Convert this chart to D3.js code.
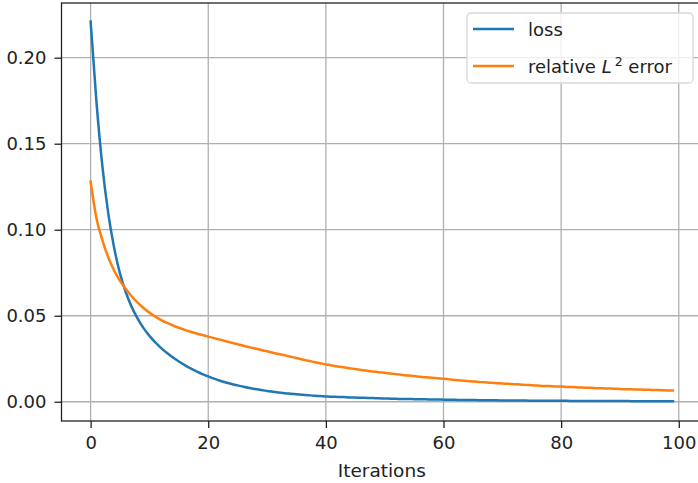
<!DOCTYPE html>
<html>
<head>
<meta charset="utf-8">
<script src="https://cdn.jsdelivr.net/npm/d3@7"></script>
<style>
  html, body { margin: 0; padding: 0; background: #fff; }
  svg { display: block; font-family: "DejaVu Sans", sans-serif; }
</style>
</head>
<body>
<svg id="chart" width="698" height="483"></svg>
<script>
const iterations = d3.range(0, 100);

// training loss per iteration
const lossValues = [
  0.221, 0.174, 0.137, 0.1095, 0.0895, 0.0745, 0.0635, 0.055, 0.0483, 0.0428,
  0.0383, 0.0345, 0.0312, 0.0283, 0.0257, 0.0234, 0.0213, 0.0194, 0.0177, 0.0161,
  0.0147, 0.0134, 0.0122, 0.0112, 0.0103, 0.0095, 0.0087, 0.008, 0.0074, 0.0068,
  0.0063, 0.0058, 0.0054, 0.005, 0.0047, 0.0044, 0.0041, 0.0038, 0.0035, 0.0033,
  0.0031, 0.0029, 0.0028, 0.0027, 0.0025, 0.0024, 0.0023, 0.0022, 0.0021, 0.002,
  0.0019, 0.0018, 0.0017, 0.0016, 0.0016, 0.0015, 0.0014, 0.0014, 0.0013, 0.0013,
  0.0012, 0.00115, 0.0011, 0.00105, 0.001, 0.00096, 0.00092, 0.00088, 0.00084, 0.0008,
  0.00077, 0.00074, 0.00071, 0.00068, 0.00065, 0.00062, 0.0006, 0.00058, 0.00056, 0.00054,
  0.00052, 0.0005, 0.00048, 0.00046, 0.00045, 0.00043, 0.00042, 0.0004, 0.00039, 0.00038,
  0.00037, 0.00036, 0.00035, 0.00034, 0.00033, 0.00032, 0.00031, 0.0003, 0.0003, 0.00029
];

// relative L2 error per iteration
const errorValues = [
  0.128, 0.1065, 0.094, 0.084, 0.0763, 0.0703, 0.0655, 0.0612, 0.0576, 0.0545,
  0.0518, 0.0495, 0.0475, 0.0458, 0.0443, 0.043, 0.0418, 0.0407, 0.0397, 0.03875,
  0.03785, 0.037, 0.0361, 0.0352, 0.0343, 0.0334, 0.0325, 0.0317, 0.0309, 0.0301,
  0.0293, 0.0285, 0.0277, 0.027, 0.0262, 0.0254, 0.0246, 0.0238, 0.0231, 0.0224,
  0.0217, 0.0211, 0.0205, 0.02, 0.0195, 0.019, 0.0185, 0.018, 0.0176, 0.0172,
  0.0168, 0.0164, 0.016, 0.0156, 0.0152, 0.0149, 0.0145, 0.0142, 0.0139, 0.0136,
  0.0133, 0.013, 0.0127, 0.0124, 0.0121, 0.0118, 0.0115, 0.0113, 0.011, 0.0108,
  0.0106, 0.0104, 0.0102, 0.01, 0.0098, 0.0096, 0.0094, 0.0092, 0.0091, 0.0089,
  0.0088, 0.0086, 0.0085, 0.0083, 0.0082, 0.0081, 0.0079, 0.0078, 0.0077, 0.0076,
  0.0074, 0.0073, 0.0072, 0.0071, 0.007, 0.0069, 0.0068, 0.0067, 0.0066, 0.0065
];

const xTicks = [0, 20, 40, 60, 80, 100];
const yTicks = [0.00, 0.05, 0.10, 0.15, 0.20];

const series = [
  { name: "loss", values: lossValues, color: "#1f77b4" },
  { name: "error", values: errorValues, color: "#ff7f0e" }
];

const svg = d3.select("#chart");
const plotLeft = 61.5, plotTop = 3, plotRight = 702, plotBottom = 421;

const x = d3.scaleLinear().domain([-4.95, 103.95]).range([plotLeft, plotRight]);
const y = d3.scaleLinear().domain([-0.0112, 0.2318]).range([plotBottom, plotTop]);

// grid
const grid = svg.append("g");
grid.selectAll("line.vx")
  .data(xTicks)
  .join("line")
  .attr("class", "vx")
  .attr("x1", d => x(d)).attr("x2", d => x(d))
  .attr("y1", plotTop).attr("y2", plotBottom)
  .attr("stroke", "#b0b0b0").attr("stroke-width", 1.3);
grid.selectAll("line.hy")
  .data(yTicks)
  .join("line")
  .attr("class", "hy")
  .attr("x1", plotLeft).attr("x2", plotRight)
  .attr("y1", d => y(d)).attr("y2", d => y(d))
  .attr("stroke", "#b0b0b0").attr("stroke-width", 1.3);

// curves
const line = d3.line()
  .x((d, i) => x(iterations[i]))
  .y(d => y(d))
  .curve(d3.curveMonotoneX);

svg.append("g")
  .selectAll("path")
  .data(series)
  .join("path")
  .attr("d", d => line(d.values))
  .attr("fill", "none")
  .attr("stroke", d => d.color)
  .attr("stroke-width", 2.5)
  .attr("stroke-linejoin", "round")
  .attr("stroke-linecap", "square");

// axes
const xAxis = d3.axisBottom(x).tickValues(xTicks).tickSize(7).tickPadding(8)
  .tickFormat(d3.format("d"));
const yAxis = d3.axisLeft(y).tickValues(yTicks).tickSize(7).tickPadding(8)
  .tickFormat(d3.format(".2f"));

const gx = svg.append("g").attr("transform", `translate(0,${plotBottom})`).call(xAxis);
const gy = svg.append("g").attr("transform", `translate(${plotLeft},0)`).call(yAxis);

[gx, gy].forEach(g => {
  g.select(".domain").remove();
  g.selectAll(".tick line").attr("stroke", "#222").attr("stroke-width", 1.3);
  g.selectAll(".tick text")
    .attr("fill", "#222")
    .style("font-size", "18px")
    .style("font-family", "DejaVu Sans, sans-serif");
});

// frame
svg.append("rect")
  .attr("x", plotLeft).attr("y", plotTop)
  .attr("width", plotRight - plotLeft).attr("height", plotBottom - plotTop)
  .attr("fill", "none")
  .attr("stroke", "#222")
  .attr("stroke-width", 1.3);

svg.append("text")
  .attr("x", (plotLeft + plotRight) / 2)
  .attr("y", 477)
  .attr("text-anchor", "middle")
  .attr("fill", "#222")
  .style("font-size", "18.5px")
  .text("Iterations");

// legend
const legend = svg.append("g");
legend.append("rect")
  .attr("x", 467).attr("y", 13)
  .attr("width", 226).attr("height", 70)
  .attr("rx", 4)
  .attr("fill", "#fff").attr("fill-opacity", 0.8)
  .attr("stroke", "#d8d8d8").attr("stroke-width", 1.3);

const items = legend.selectAll("g.item")
  .data(series)
  .join("g")
  .attr("class", "item")
  .attr("transform", (d, i) => `translate(0,${29 + i * 37})`);

items.append("line")
  .attr("x1", 473).attr("x2", 514)
  .attr("stroke", d => d.color).attr("stroke-width", 2.5);

const labels = items.append("text")
  .attr("x", 528).attr("y", 6.5)
  .attr("fill", "#222")
  .style("font-size", "18px");

labels.filter(d => d.name === "loss").text("loss");
labels.filter(d => d.name === "error").each(function () {
  const t = d3.select(this);
  t.append("tspan").text("relative ");
  t.append("tspan").attr("font-style", "italic").text("L");
  t.append("tspan").attr("dy", -7).attr("dx", 3).style("font-size", "12.5px").text("2");
  t.append("tspan").attr("dy", 7).text(" error");
});
</script>
</body>
</html>
